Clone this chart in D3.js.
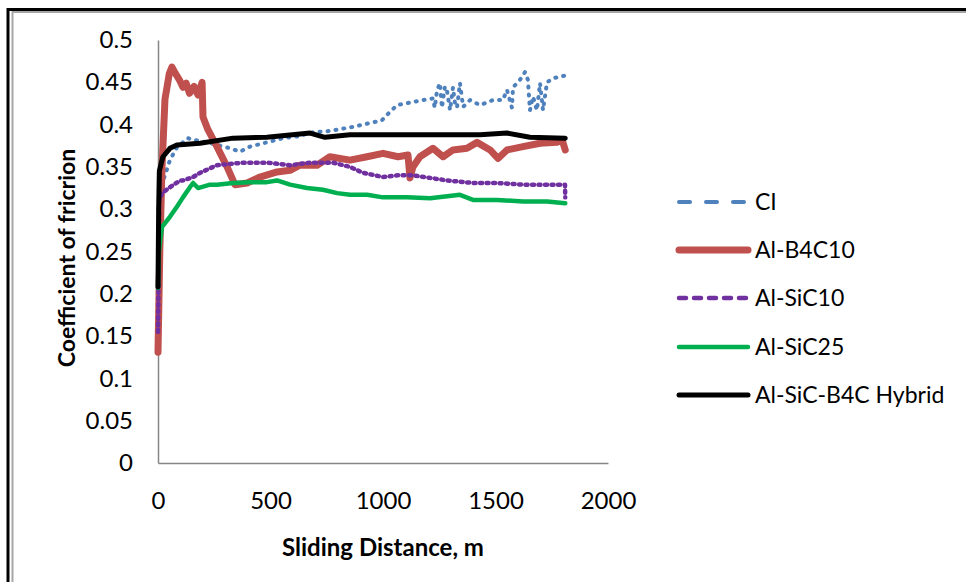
<!DOCTYPE html>
<html>
<head>
<meta charset="utf-8">
<script src="https://cdn.jsdelivr.net/npm/d3@7"></script>
<style>
  html, body { margin: 0; padding: 0; background: #fff; }
  svg { display: block; }
  text { font-family: Lato, "Open Sans", sans-serif; fill: #000; }
</style>
</head>
<body>
<svg id="chart" width="966" height="582"></svg>
<script>
// ---- data (sliding distance in m, coefficient of friction) ----
const xTicks = [0, 500, 1000, 1500, 2000];
const yTicks = [0, 0.05, 0.1, 0.15, 0.2, 0.25, 0.3, 0.35, 0.4, 0.45, 0.5];
const xTitle = "Sliding Distance, m";
const yTitle = "Coefficient of fricrion";
const seriesNames = ["CI", "Al-B4C10", "Al-SiC10", "Al-SiC25", "Al-SiC-B4C Hybrid"];

const ciDist = [2, 12, 31, 53, 84, 133, 156, 200, 262, 320, 364, 409, 484, 556, 620, 689, 750, 796, 860, 911, 960, 995, 1031, 1062, 1120, 1178, 1222, 1230, 1240, 1253, 1262, 1275, 1284, 1298, 1311, 1320, 1329, 1342, 1356, 1387, 1431, 1489, 1533, 1551, 1573, 1578, 1609, 1631, 1644, 1653, 1667, 1684, 1698, 1711, 1729, 1756, 1780, 1810];
const ciCof  = [0.30, 0.325, 0.340, 0.358, 0.373, 0.384, 0.382, 0.380, 0.376, 0.372, 0.368, 0.374, 0.379, 0.384, 0.386, 0.391, 0.392, 0.394, 0.397, 0.400, 0.403, 0.405, 0.415, 0.423, 0.426, 0.429, 0.431, 0.420, 0.440, 0.449, 0.420, 0.445, 0.441, 0.417, 0.444, 0.425, 0.420, 0.449, 0.421, 0.429, 0.423, 0.429, 0.429, 0.441, 0.420, 0.444, 0.453, 0.462, 0.453, 0.417, 0.433, 0.417, 0.449, 0.417, 0.450, 0.455, 0.456, 0.458];

const b4cDist = [0, 8, 18, 31, 50, 62, 76, 95, 111, 125, 140, 160, 178, 196, 200, 222, 262, 307, 342, 396, 453, 529, 587, 631, 707, 764, 853, 929, 1000, 1067, 1111, 1120, 1133, 1164, 1222, 1267, 1311, 1373, 1418, 1476, 1511, 1551, 1622, 1698, 1773, 1796, 1810];
const b4cCof  = [0.131, 0.25, 0.35, 0.43, 0.46, 0.468, 0.461, 0.453, 0.444, 0.449, 0.437, 0.445, 0.435, 0.450, 0.409, 0.394, 0.374, 0.350, 0.329, 0.331, 0.338, 0.344, 0.346, 0.352, 0.352, 0.362, 0.358, 0.362, 0.366, 0.362, 0.364, 0.337, 0.350, 0.362, 0.372, 0.362, 0.370, 0.372, 0.379, 0.370, 0.360, 0.370, 0.374, 0.378, 0.379, 0.382, 0.370];

const sic10Dist = [0, 2, 5, 18, 53, 98, 111, 156, 187, 262, 378, 484, 587, 676, 778, 853, 911, 1000, 1067, 1133, 1209, 1284, 1400, 1507, 1622, 1729, 1809, 1810];
const sic10Cof  = [0.155, 0.205, 0.31, 0.319, 0.326, 0.334, 0.334, 0.338, 0.343, 0.352, 0.355, 0.355, 0.352, 0.355, 0.355, 0.350, 0.343, 0.338, 0.340, 0.340, 0.337, 0.334, 0.331, 0.331, 0.329, 0.329, 0.329, 0.314];

const sic25Dist = [0, 4, 10, 18, 53, 84, 111, 142, 156, 178, 231, 262, 333, 409, 484, 529, 587, 662, 733, 796, 853, 929, 1000, 1107, 1209, 1342, 1400, 1507, 1622, 1729, 1810];
const sic25Cof  = [0.207, 0.25, 0.264, 0.279, 0.291, 0.303, 0.314, 0.326, 0.331, 0.325, 0.329, 0.329, 0.331, 0.332, 0.332, 0.334, 0.329, 0.325, 0.323, 0.319, 0.317, 0.317, 0.314, 0.314, 0.313, 0.317, 0.311, 0.311, 0.309, 0.309, 0.307];

const hybDist = [0, 3, 6, 15, 22, 53, 84, 187, 333, 484, 676, 742, 853, 1067, 1209, 1431, 1551, 1653, 1810];
const hybCof  = [0.208, 0.30, 0.345, 0.355, 0.362, 0.372, 0.376, 0.378, 0.384, 0.385, 0.390, 0.385, 0.388, 0.388, 0.388, 0.388, 0.390, 0.385, 0.384];

const seriesDist = [ciDist, b4cDist, sic10Dist, sic25Dist, hybDist];
const seriesCof  = [ciCof, b4cCof, sic10Cof, sic25Cof, hybCof];

// ---- styles ----
const colors = ["#4F81BD", "#C0504D", "#7030A0", "#00B050", "#000000"];
const widths = [4, 7, 4.5, 4.5, 5];
const plotDash = ["1,7", null, "2,4.5", null, null];
const legendDash = ["11,16", null, "7,8", null, null];
const drawOrder = [0, 1, 2, 3, 4];

const svg = d3.select("#chart");

// outer frame
svg.append("path").attr("d", "M8,582 V9.5 H966").attr("fill", "none")
  .attr("stroke", "#000").attr("stroke-width", 3);
svg.append("path").attr("d", "M12.5,582 V12 H966").attr("fill", "none")
  .attr("stroke", "#a6a6a6").attr("stroke-width", 2);

const x = d3.scaleLinear().domain([0, 2000]).range([158, 608]);
const y = d3.scaleLinear().domain([0, 0.5]).range([463, 40]);

// axes
const xAxis = d3.axisBottom(x).tickValues(xTicks).tickSize(0).tickPadding(29)
  .tickFormat(d3.format("d"));
const gx = svg.append("g").attr("transform", `translate(0,${y(0)})`).call(xAxis);
gx.select(".domain").attr("stroke", "#868686").attr("stroke-width", 1.5);
gx.selectAll("text").style("font-size", "24px").style("font-family", "Lato, sans-serif").attr("fill", "#000");

const yAxis = d3.axisLeft(y).tickValues(yTicks).tickSize(0).tickPadding(25)
  .tickFormat(d => d3.format("~g")(+d.toFixed(2)));
const gy = svg.append("g").attr("transform", `translate(${x(0)},0)`).call(yAxis);
gy.select(".domain").attr("stroke", "#868686").attr("stroke-width", 1.5);
gy.selectAll("text").style("font-size", "24px").style("font-family", "Lato, sans-serif").attr("fill", "#000");

// axis titles
svg.append("text").attr("x", 383).attr("y", 556).attr("text-anchor", "middle")
  .style("font-size", "24px").style("font-weight", "bold").text(xTitle);
svg.append("text").attr("transform", "translate(75,258) rotate(-90)")
  .attr("text-anchor", "middle").style("font-size", "23px").style("font-weight", "bold").text(yTitle);

// lines
const line = d3.line().x(d => x(d[0])).y(d => y(d[1])).curve(d3.curveLinear);
drawOrder.forEach(i => {
  const pts = seriesDist[i].map((d, k) => [d, seriesCof[i][k]]);
  const p = svg.append("path").datum(pts).attr("d", line)
    .attr("fill", "none").attr("stroke", colors[i]).attr("stroke-width", widths[i])
    .attr("stroke-linejoin", "round").attr("stroke-linecap", "round");
  if (plotDash[i]) p.attr("stroke-dasharray", plotDash[i]);
});

// legend
const legY = [202, 250, 298, 347, 395];
seriesNames.forEach((name, i) => {
  const l = svg.append("line").attr("x1", 679).attr("x2", 748)
    .attr("y1", legY[i]).attr("y2", legY[i])
    .attr("stroke", colors[i]).attr("stroke-width", widths[i]).attr("stroke-linecap", "round");
  if (legendDash[i]) l.attr("stroke-dasharray", legendDash[i]);
  svg.append("text").attr("x", 755).attr("y", legY[i]).attr("dy", "0.35em")
    .style("font-size", "23px").text(name);
});
</script>
</body>
</html>
